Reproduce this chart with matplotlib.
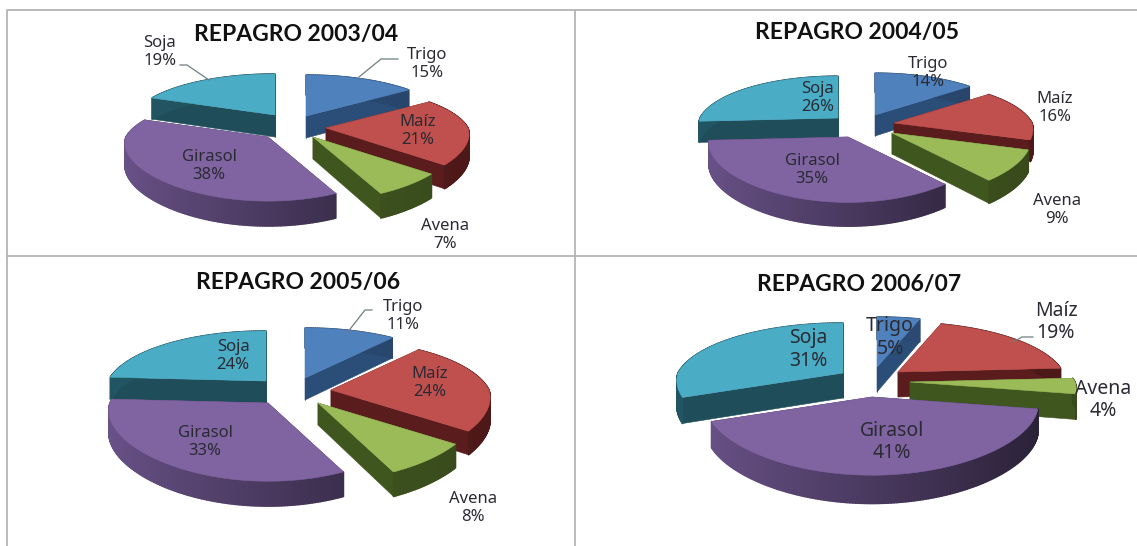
import matplotlib
matplotlib.use('Agg')
import matplotlib.pyplot as plt
import numpy as np
from matplotlib.collections import PolyCollection
from matplotlib.patches import Polygon

CULTIVOS = ['Trigo', 'Maíz', 'Avena', 'Girasol', 'Soja']
PCT_0304 = [15, 21, 7, 38, 19]
PCT_0405 = [14, 16, 9, 35, 26]
PCT_0506 = [11, 24, 8, 33, 24]
PCT_0607 = [5, 19, 4, 41, 31]
TITULOS = ['REPAGRO 2003/04', 'REPAGRO 2004/05', 'REPAGRO 2005/06', 'REPAGRO 2006/07']

TOP = ['#4F81BD', '#C0504D', '#9BBB59', '#8064A2', '#4BACC6']
CUT = ['#2B4E78', '#5A1C1C', '#40561F', '#3F3058', '#1F4D5A']
WALL = ['#34598A', '#662020', '#4A6224', '#7A5F9E', '#245A68']
DRAW_ORDER = [4, 0, 1, 2, 3]

# layout in image pixels: apex per slice, radii, depth, perspective
LAYOUT = [
    dict(apex=[(306, 116), (326, 128), (313, 137), (268, 137), (275, 115)], rx=142, ry=50, p=.22, d=22, fs=12,
         labels=[(427, 64), (418, 131), (445, 235), (209, 166), (160, 52)], title=(296, 35),
         leaders=[[(398, 59), (381, 59), (359, 77)], [(180, 65), (187, 65), (209, 80)]]),
    dict(apex=[(875, 115), (894, 123), (892, 133), (848, 137), (838, 118)], rx=138, ry=51, p=.22, d=21, fs=12,
         labels=[(928, 73), (1055, 108), (1057, 210), (812, 170), (818, 98)], title=(857, 32), leaders=[]),
    dict(apex=[(305, 378), (331, 390), (318, 403), (268, 403), (266, 381)], rx=158, ry=61, p=.22, d=22, fs=12,
         labels=[(403, 316), (430, 383), (473, 508), (205, 442), (233, 356)], title=(298, 283),
         leaders=[[(372, 310), (365, 310), (347, 333)]]),
    dict(apex=[(877, 367), (898, 372), (910, 382), (872, 397), (843, 373)], rx=165, ry=61, p=.22, d=25, fs=14,
         labels=[(890, 337), (1056, 322), (1103, 400), (892, 442), (808, 350)], title=(859, 285),
         leaders=[[(1033, 337), (1022, 337), (1013, 342)]]),
]


def project(theta, ap, lay):
    u, v = np.sin(theta), np.cos(theta)
    wy = 1 / (1 + lay['p'] * v)
    # back of the pie narrows more than the front widens
    wx = 1 / (1 + np.where(v > 0, 0.2, 0.12) * v)
    return ap[0] + lay['rx'] * u * wx, ap[1] - lay['ry'] * v * wy, lay['d'] * np.sqrt(wy)


def shade(color, f):
    rgb = np.array(matplotlib.colors.to_rgb(color))
    return tuple(rgb * f)


def draw_pie(ax, pct, lay):
    edges = np.cumsum([0] + pct) / 100 * 2 * np.pi
    for i in DRAW_ORDER:
        ap = lay['apex'][i]
        z = 2 + DRAW_ORDER.index(i)
        th = np.linspace(edges[i], edges[i + 1], max(8, int(pct[i] * 4)))
        x, y, d = project(th, ap, lay)
        # cut faces first, they end up under the top surface when hidden
        for k in (0, -1):
            ax.add_patch(Polygon([ap, (x[k], y[k]), (x[k], y[k] + d[k]), (ap[0], ap[1] + lay['d'])],
                                 fc=CUT[i], ec=CUT[i], lw=.4, zorder=z))
        quads = []
        cols = []
        for k in range(len(th) - 1):
            quads.append([(x[k], y[k]), (x[k + 1], y[k + 1]), (x[k + 1], y[k + 1] + d[k + 1]), (x[k], y[k] + d[k])])
            f = 0.86 - 0.26 * (np.sin(th[k]) + 1)
            if i != 3:
                f = 0.95 - 0.2 * (np.sin(th[k]) + 1) / 2
            cols.append(shade(WALL[i], f))
        ax.add_collection(PolyCollection(quads, facecolors=cols, edgecolors=cols, linewidths=1.1, zorder=z))
        ax.add_patch(Polygon([ap] + list(zip(x, y)), fc=TOP[i], ec=TOP[i], lw=.4, zorder=z))


fig = plt.figure(figsize=(11.37, 5.46), dpi=100)
ax = fig.add_axes([0, 0, 1, 1])
ax.set_xlim(0, 1137)
ax.set_ylim(546, 0)
ax.axis('off')

# panel frame
for seg in [[(7, 546), (7, 10), (1137, 10)], [(7, 256), (1137, 256)], [(575, 10), (575, 546)]]:
    ax.plot(*zip(*seg), color='#b4b4b4', lw=1.3, zorder=1)

for pct, titulo, lay in zip([PCT_0304, PCT_0405, PCT_0506, PCT_0607], TITULOS, LAYOUT):
    draw_pie(ax, pct, lay)
    ax.text(*lay['title'], titulo, family='Lato', fontweight='bold', fontsize=16.5, color='#111111',
            ha='center', va='center', zorder=20)
    for seg in lay['leaders']:
        ax.plot(*zip(*seg), color='#6f7f80', lw=.9, zorder=15)
    for nombre, val, pos in zip(CULTIVOS, pct, lay['labels']):
        ax.text(*pos, f'{nombre}\n{val}%', family='Noto Sans', fontsize=lay['fs'], color='#2a2a33',
                ha='center', va='center', linespacing=1.2, zorder=20)

fig.savefig('out.png', dpi=100)
